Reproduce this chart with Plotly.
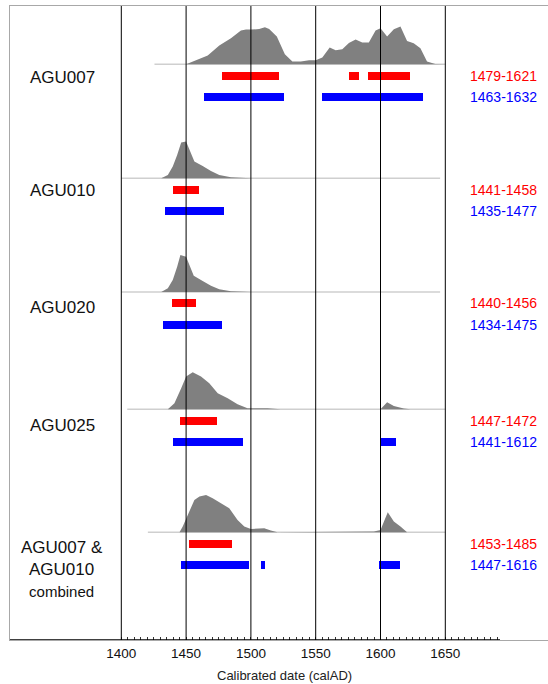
import plotly.graph_objects as go

# ---------------- data ----------------
samples = ["AGU007", "AGU010", "AGU020", "AGU025", "AGU007 &<br>AGU010<br><span style='font-size:15px'>combined</span>"]
range_68 = ["1479-1621", "1441-1458", "1440-1456", "1447-1472", "1453-1485"]
range_95 = ["1463-1632", "1435-1477", "1434-1475", "1441-1612", "1447-1616"]

# 68% (red) and 95% (blue) interval segments, calAD
red_segments = [
    [(1478, 1521.7), (1576, 1583.5), (1590.5, 1622.5)],
    [(1439.6, 1460)],
    [(1439, 1458)],
    [(1445.2, 1473.6)],
    [(1452.6, 1485.2)],
]
blue_segments = [
    [(1463.6, 1525.8), (1555, 1632.5)],
    [(1433.7, 1479)],
    [(1432, 1477.5)],
    [(1439.8, 1494.2), (1600.5, 1611.8)],
    [(1446, 1498.8), (1507.5, 1510.5), (1599.2, 1615)],
]

# probability density curves (years, relative height)
dens_years = [
    [1450, 1466.7, 1475.6, 1484.6, 1492.3, 1496.2, 1500, 1506.4, 1510.8, 1514.1, 1520, 1523.1, 1526.2,
     1532, 1538.5, 1544.9, 1550, 1555.1, 1560.8, 1565.4, 1570.5, 1575.6, 1580.8, 1585.9, 1591,
     1596.2, 1600, 1605.1, 1610.3, 1615.4, 1620.5, 1625.6, 1630.8, 1635.9, 1642.3, 1650],
    [1425, 1430.8, 1435.9, 1439.7, 1443.1, 1446.2, 1450, 1453.3, 1456.4, 1462.8, 1469.2, 1475.6, 1484.6, 1500,
     1595, 1600, 1606],
    [1425, 1430.8, 1435.9, 1439.7, 1443.1, 1445.6, 1450, 1452.6, 1455.9, 1462.8, 1469.2, 1475.6, 1484.6, 1500],
    [1435.9, 1441, 1446.2, 1450, 1455.1, 1461.5, 1467.9, 1474.4, 1482.1, 1489.7, 1497.4, 1512.8, 1523,
     1600, 1605.1, 1610.3, 1618, 1623.1],
    [1444.9, 1447.4, 1451.3, 1456.4, 1460.3, 1465.4, 1470.5, 1476.9, 1483.3, 1489.7, 1494.9, 1500, 1510.3,
     1515.4, 1520.5, 1594.9, 1600, 1605.6, 1610.3, 1615.4, 1620.5],
]
dens_vals = [
    [0, 8.7, 18.7, 26, 33.7, 34.7, 34.7, 35.3, 37, 35.3, 27.7, 19.3, 10,
     2.7, 2.7, 4, 4, 6.7, 16.7, 14, 15, 21.3, 24.7, 21.7, 21.7,
     33.7, 36, 27.7, 35, 37.7, 23.3, 21, 16, 2.7, 0.3, 0],
    [0, 0, 3.3, 11.7, 23.3, 35.7, 36.7, 26.7, 16.7, 12.3, 7.3, 3.3, 1, 0,
     0, 0.6, 0],
    [0, 0, 3.7, 12, 25.3, 37, 35.3, 27, 16.3, 11, 6.3, 2.7, 0.7, 0],
    [0, 6, 21, 32.7, 37, 32.7, 26, 16, 11, 5, 1, 1, 0,
     0, 7, 3.3, 0.7, 0],
    [0, 5.7, 17.3, 32.3, 35.7, 37.3, 34, 29, 24, 12.3, 5.7, 3.3, 4,
     1.7, 0, 0.7, 2.3, 20, 10.7, 5.7, 0],
]
# span of each row's density baseline
base_span = [(1425.6, 1650), (1400, 1646), (1400, 1646), (1404.6, 1650), (1420.5, 1650)]

tick_vals = [1400, 1450, 1500, 1550, 1600, 1650]
minor_vals = [1400 + 5 * i for i in range(59)]

# ---------------- layout constants (pixels) ----------------
W, H = 548, 684
ML, MT, MB = 10, 6, 44
PLOT_TOP, PLOT_BOT = 6, 640
PX_PER_YEAR = 1.296
X_REF_PX = 121.3  # pixel of year 1400


def px_to_year(px):
    return 1400 + (px - X_REF_PX) / PX_PER_YEAR


X0, X1 = px_to_year(ML), px_to_year(W)
baselines = [64.3, 178.3, 292, 409.3, 532.3]
RED_OFF, BLUE_OFF = 11.3, 33
label_y = [77, 190, 307, 425, 569]
BAR_W = 8
RED, BLUE, GREY = "#ff0000", "#0000ff", "#808080"
FONT = "Liberation Sans, Arial, sans-serif"

fig = go.Figure()

for i in range(len(samples)):
    b = baselines[i]
    # baseline
    fig.add_trace(go.Scatter(x=list(base_span[i]), y=[b, b], mode="lines",
                             line=dict(color="#cfcfcf", width=1.5), hoverinfo="skip", showlegend=False))
    # density polygon
    xs = dens_years[i] + dens_years[i][::-1]
    ys = [b - v for v in dens_vals[i]] + [b] * len(dens_vals[i])
    fig.add_trace(go.Scatter(x=xs, y=ys, mode="lines", fill="toself", fillcolor=GREY,
                             line=dict(width=0, color=GREY), hoverinfo="skip", showlegend=False))
    # interval bars
    for segs, off, col in ((red_segments[i], RED_OFF, RED), (blue_segments[i], BLUE_OFF, BLUE)):
        fig.add_trace(go.Bar(
            y=[b + off] * len(segs), base=[s[0] for s in segs], x=[s[1] - s[0] for s in segs],
            orientation="h", width=BAR_W, marker=dict(color=col, line=dict(width=0)),
            hoverinfo="skip", showlegend=False))
    # labels
    fig.add_annotation(x=px_to_year(62), xref="x", y=label_y[i], yref="y",
                       text=samples[i], showarrow=False, xanchor="center", yanchor="middle",
                       font=dict(family=FONT, size=17, color="#111"))
    fig.add_annotation(x=px_to_year(503.5), xref="x", y=b + RED_OFF, yref="y",
                       text=range_68[i], showarrow=False, xanchor="center", yanchor="middle",
                       font=dict(family=FONT, size=14, color=RED))
    fig.add_annotation(x=px_to_year(503.5), xref="x", y=b + BLUE_OFF, yref="y",
                       text=range_95[i], showarrow=False, xanchor="center", yanchor="middle",
                       font=dict(family=FONT, size=14, color=BLUE))

# vertical reference lines at major ticks (above traces)
for t in tick_vals:
    fig.add_shape(type="line", x0=t, x1=t, xref="x", y0=PLOT_TOP, y1=PLOT_BOT, yref="y",
                  line=dict(color="black", width=1), layer="above")
# black x-axis line segment
fig.add_shape(type="line", x0=X0, x1=px_to_year(500), xref="x", y0=PLOT_BOT, y1=PLOT_BOT, yref="y",
              line=dict(color="black", width=1.3), layer="above")

# axis title (outside the plot area -> paper coordinates)
fig.add_annotation(x=px_to_year(284), xref="x", y=(PLOT_BOT - 675) / (PLOT_BOT - PLOT_TOP), yref="paper",
                   text="Calibrated date (calAD)", showarrow=False, xanchor="center", yanchor="middle",
                   font=dict(family=FONT, size=13, color="#222"))

fig.update_layout(
    width=W, height=H, margin=dict(l=ML, r=0, t=MT, b=MB),
    paper_bgcolor="white", plot_bgcolor="white", barmode="overlay", bargap=0,
    xaxis=dict(range=[X0, X1], tickvals=tick_vals, ticktext=[str(t) for t in tick_vals],
               showgrid=False, zeroline=False, showline=True, linecolor="#a8a8a8", linewidth=1, mirror=True,
               ticks="", tickfont=dict(family=FONT, size=13.5, color="#111"), ticklabelstandoff=1,
               minor=dict(tickvals=minor_vals, ticks="inside", ticklen=3, tickcolor="#333", tickwidth=1,
                          showgrid=False)),
    yaxis=dict(range=[PLOT_BOT, PLOT_TOP], showgrid=False, zeroline=False, showticklabels=False,
               showline=True, linecolor="#a8a8a8", linewidth=1, mirror=True, ticks=""),
)

fig.write_html("out.html", config={"displayModeBar": False, "staticPlot": True},
               post_script="document.body.style.margin='0';document.body.style.overflow='hidden';")
